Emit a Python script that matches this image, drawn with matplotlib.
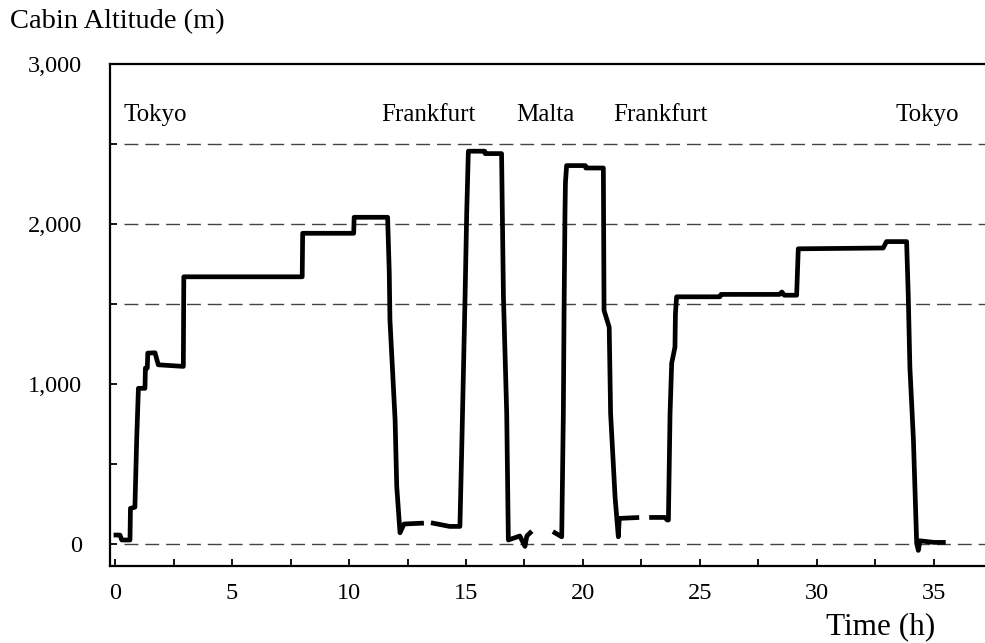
import numpy as np
import matplotlib
matplotlib.use('Agg')
import matplotlib.pyplot as plt

# time (h) and cabin altitude (m); nan marks a gap in the record
time_h = [0.04, 0.21, 0.29, 0.64, 0.66, 0.85, 0.93, 1.0, 1.28, 1.3, 1.38, 1.4, 1.71, 1.85, 2.92,
          2.94, 8.0, 8.02, 10.2, 10.22, 11.65, 11.72, 11.75, 11.97, 12.04, 12.18, 12.35, 13.1,
          np.nan,
          13.6, 14.3, 14.74, 14.82, 14.96, 15.03, 15.1, 15.8, 15.82, 16.52, 16.6, 16.74, 16.81,
          17.3, 17.52, 17.6, 17.74,
          np.nan,
          18.8, 19.09, 19.16, 19.19, 19.23, 19.25, 19.3, 20.1, 20.12, 20.87, 20.9, 21.12, 21.18,
          21.37, 21.51, 21.55, 22.3,
          np.nan,
          22.93, 23.5, 23.6, 23.65, 23.72, 23.79, 23.93, 23.95, 24.0, 25.85, 25.9, 28.4, 28.5,
          28.6, 29.13, 29.2, 32.83, 32.97, 33.83, 33.9, 33.97, 34.12, 34.26, 34.33, 34.4, 35.0,
          35.4]
altitude_m = [56, 56, 25, 25, 223, 230, 670, 973, 973, 1100, 1100, 1193, 1195, 1120, 1110,
              1670, 1670, 1942, 1942, 2042, 2042, 1700, 1400, 775, 360, 70, 125, 130,
              np.nan,
              130, 110, 110, 608, 1545, 2067, 2455, 2455, 2440, 2440, 1545, 815, 25,
              50, -15, 50, 70,
              np.nan,
              70, 45, 815, 1440, 2070, 2260, 2365, 2365, 2350, 2350, 1460, 1355, 815,
              295, 45, 160, 165,
              np.nan,
              166, 166, 150, 150, 815, 1130, 1230, 1440, 1545, 1545, 1560, 1560, 1575,
              1555, 1555, 1845, 1850, 1890, 1890, 1555, 1105, 655, 5, -40, 20, 10,
              10]

ref_levels = [0, 1500, 2000, 2500]

cities = ['Tokyo', 'Frankfurt', 'Malta', 'Frankfurt', 'Tokyo']
city_t = [1.73, 13.4, 18.4, 23.3, 34.7]
city_y = 2680

yticks = [0, 1000, 2000, 3000]
ytick_labels = ['0', '1,000', '2,000', '3,000']
xticks = [0, 5, 10, 15, 20, 25, 30, 35]

plt.rcParams['font.family'] = ['Liberation Serif', 'DejaVu Serif']

fig = plt.figure(figsize=(9.85, 6.43), dpi=100)
ax = fig.add_axes([110 / 985, 1 - 566 / 643, 1 - 110 / 985, (566 - 64) / 643])

for lv in ref_levels:
    ax.hlines(lv, 0.4, 37.2, colors='#444444', linewidth=1.0, linestyles=(0, (10, 5)))

ax.plot(time_h, altitude_m, color='black', linewidth=3.4)

for name, t in zip(cities, city_t):
    ax.text(t, city_y, name, ha='center', va='center', fontsize=18)

ax.set_xlim(-0.214, 37.18)
ax.set_ylim(-137.5, 3000)

ax.set_xticks(xticks)
ax.set_xticks(np.arange(2.5, 37.5, 5), minor=True)
ax.set_yticks(yticks)
ax.set_yticklabels(ytick_labels)
ax.set_yticks([500, 1500, 2500], minor=True)
ax.tick_params(which='both', direction='in', length=5, width=1.3, labelsize=17.5)
ax.tick_params(axis='x', pad=12)
ax.tick_params(axis='y', pad=20)

ax.spines['right'].set_visible(False)
for s in ['left', 'bottom', 'top']:
    ax.spines[s].set_linewidth(1.6)

fig.text(10 / 985, 1 - 22 / 643, 'Cabin Altitude (m)', ha='left', va='center', fontsize=20.5)
fig.text(935 / 985, 1 - 627 / 643, 'Time (h)', ha='right', va='center', fontsize=22.5)

fig.savefig('out.png', dpi=100)
